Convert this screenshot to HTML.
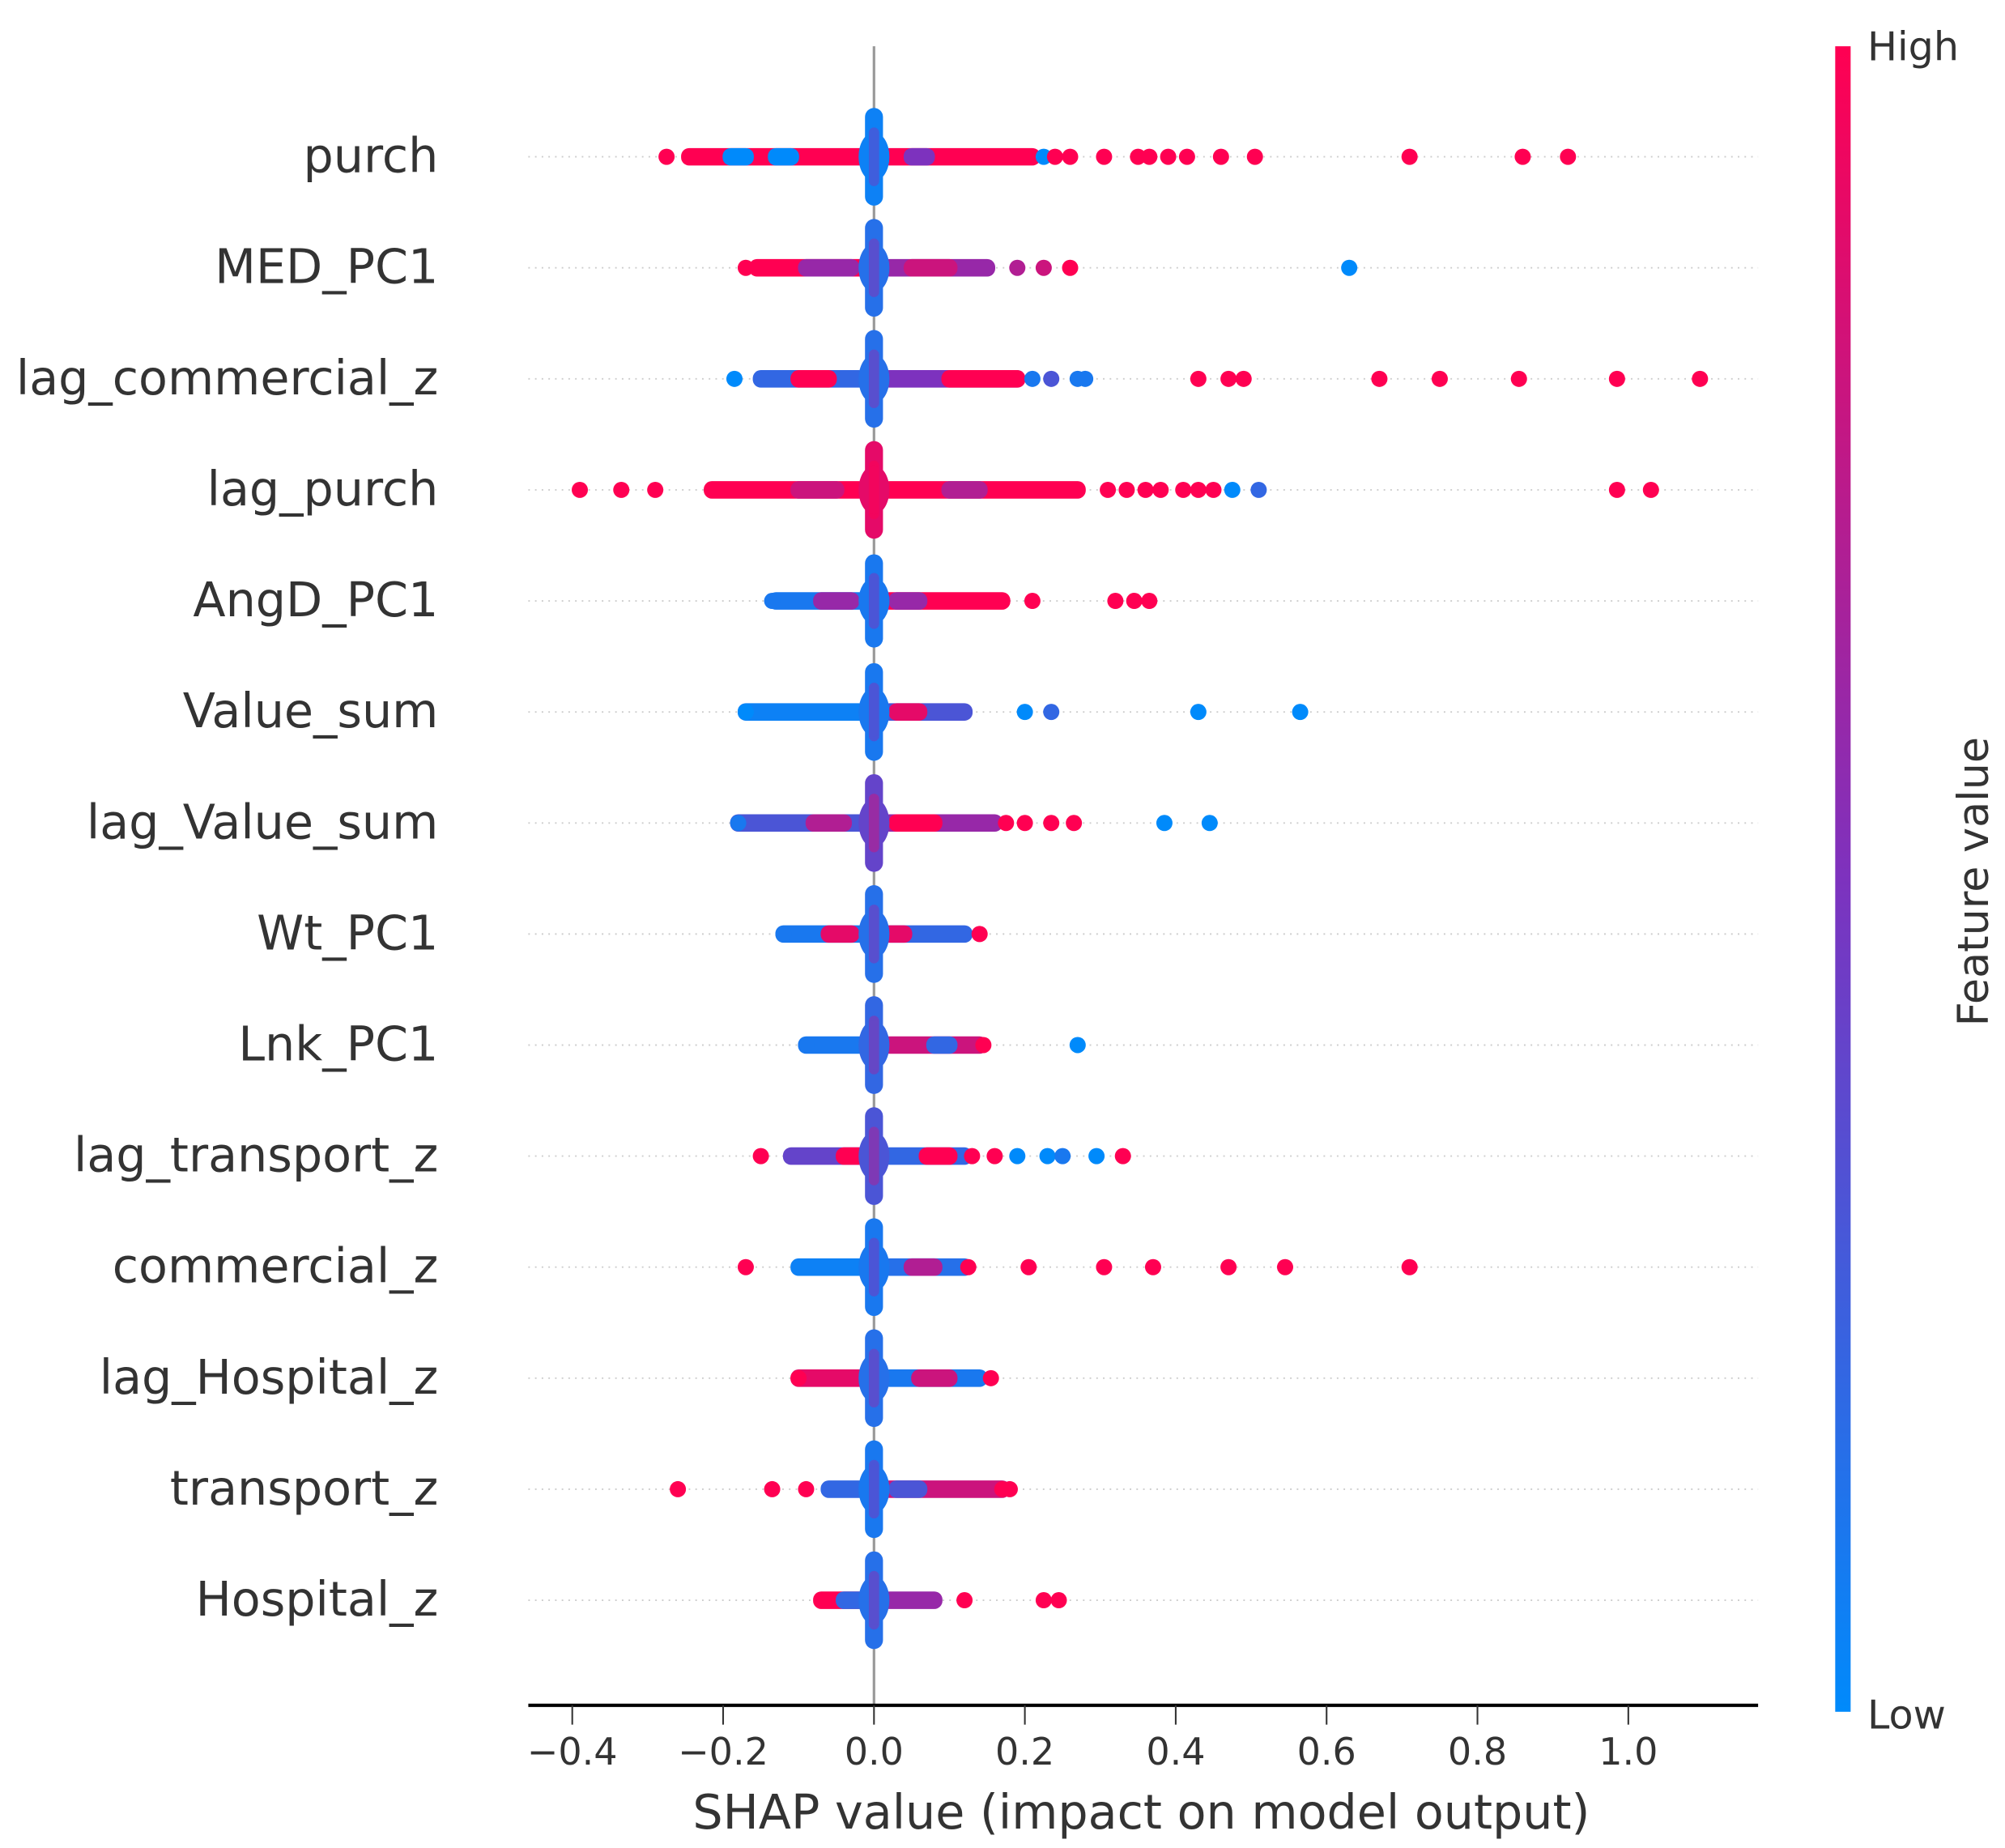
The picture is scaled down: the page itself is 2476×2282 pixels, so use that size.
<!DOCTYPE html>
<html><head><meta charset="utf-8"><style>html,body{margin:0;padding:0;background:#fff}svg{display:block}</style></head>
<body>
<svg id="chart" width="2476" height="2282" viewBox="0 0 1560 1438" xmlns="http://www.w3.org/2000/svg" font-family="'DejaVu Sans','Liberation Sans',sans-serif">
<defs><linearGradient id="cb" x1="0" y1="1" x2="0" y2="0"><stop offset="0" stop-color="rgb(0,138,251)"/><stop offset="0.5" stop-color="rgb(125,50,190)"/><stop offset="1" stop-color="rgb(255,0,82)"/></linearGradient></defs>
<g id="rows"></g>
</svg>
<script>
const features = ["purch","MED_PC1","lag_commercial_z","lag_purch","AngD_PC1","Value_sum","lag_Value_sum","Wt_PC1","Lnk_PC1","lag_transport_z","commercial_z","lag_Hospital_z","transport_z","Hospital_z"];
const xTicks = [-0.4,-0.2,0.0,0.2,0.4,0.6,0.8,1.0];
const tickLabels = ["\u22120.4","\u22120.2","0.0","0.2","0.4","0.6","0.8","1.0"];
// band segments per feature: [lo, hi, featureColor]
const bands = [
 [[-0.245,-0.02,1],[-0.19,-0.17,0],[-0.13,-0.11,0],[0.02,0.21,1],[0.05,0.07,0.5]],
 [[-0.155,-0.02,1],[-0.09,-0.03,0.6],[0.02,0.15,0.6],[0.05,0.1,0.8]],
 [[-0.15,-0.02,0.2],[-0.1,-0.06,1],[0.02,0.19,0.5],[0.1,0.19,1]],
 [[-0.215,-0.02,1],[-0.1,-0.05,0.8],[0.02,0.27,1],[0.1,0.14,0.7]],
 [[-0.13,-0.02,0.1],[-0.07,-0.03,0.6],[0.02,0.17,1],[0.03,0.06,0.6]],
 [[-0.17,-0.02,0.05],[0.02,0.12,0.3],[0.03,0.06,0.9]],
 [[-0.18,-0.02,0.3],[-0.08,-0.04,0.7],[0.02,0.16,0.6],[0.03,0.08,1]],
 [[-0.12,-0.02,0.1],[-0.06,-0.03,0.9],[0.02,0.12,0.2],[0.02,0.04,0.9]],
 [[-0.09,-0.02,0.1],[0.02,0.14,0.8],[0.08,0.1,0.2]],
 [[-0.11,-0.02,0.4],[-0.04,-0.02,1],[0.02,0.12,0.2],[0.07,0.1,1]],
 [[-0.1,-0.02,0.05],[0.02,0.12,0.15],[0.05,0.08,0.7]],
 [[-0.1,-0.02,0.9],[0.02,0.14,0.1],[0.06,0.1,0.8]],
 [[-0.06,-0.02,0.2],[0.02,0.17,0.8],[0.03,0.06,0.3]],
 [[-0.07,-0.02,1],[0.02,0.08,0.6],[-0.04,-0.02,0.2]]
];
// individual dots per feature: [shapValue, featureColor]
const dots = [
 [[-0.275,1],[0.225,0],[0.24,1],[0.26,1],[0.305,1],[0.35,1],[0.365,1],[0.39,1],[0.415,1],[0.46,1],[0.505,1],[0.71,1],[0.86,1],[0.92,1]],
 [[-0.17,1],[0.19,0.7],[0.225,0.8],[0.26,1],[0.63,0]],
 [[-0.185,0],[0.21,0.1],[0.235,0.3],[0.27,0.1],[0.28,0.1],[0.43,1],[0.47,1],[0.49,1],[0.67,1],[0.75,1],[0.855,1],[0.985,1],[1.095,1]],
 [[-0.39,1],[-0.335,1],[-0.29,1],[0.31,1],[0.335,1],[0.36,1],[0.38,1],[0.41,1],[0.43,1],[0.45,1],[0.475,0],[0.51,0.2],[0.985,1],[1.03,1]],
 [[-0.135,0.1],[0.21,1],[0.32,1],[0.345,1],[0.365,1]],
 [[-0.17,0],[0.2,0],[0.235,0.2],[0.43,0],[0.565,0]],
 [[-0.18,0.1],[0.175,1],[0.2,1],[0.235,1],[0.265,1],[0.385,0],[0.445,0]],
 [[-0.12,0.1],[0.14,1]],
 [[-0.09,0.1],[0.145,1],[0.27,0]],
 [[-0.15,1],[0.13,1],[0.16,1],[0.19,0],[0.23,0],[0.25,0.1],[0.295,0],[0.33,1]],
 [[-0.17,1],[0.125,1],[0.205,1],[0.305,1],[0.37,1],[0.47,1],[0.545,1],[0.71,1]],
 [[-0.1,1],[0.155,1]],
 [[-0.26,1],[-0.135,1],[-0.09,1],[0.17,1],[0.18,1]],
 [[0.12,1],[0.225,1],[0.245,1]]
];
// vertical spread of the dense cluster at zero (fraction of row spacing) and its colour
const coreSpread = [0.44,0.44,0.44,0.44,0.42,0.44,0.44,0.44,0.44,0.44,0.44,0.44,0.44,0.44];
const coreColor = [0.05,0.15,0.15,0.9,0.1,0.1,0.4,0.15,0.2,0.3,0.1,0.15,0.1,0.15];

const NS="http://www.w3.org/2000/svg";
const svg=document.getElementById('chart');
const X0=680, PXU=587;
const xs=v=>X0+v*PXU;
const ROW0=122, ROWH=86.4;
const ys=i=>ROW0+i*ROWH;
const R=6.3;
function col(c){const lo=[0,138,251],mi=[125,50,190],hi=[255,0,82];let a,b,t;if(c<0.5){a=lo;b=mi;t=c/0.5}else{a=mi;b=hi;t=(c-0.5)/0.5}return `rgb(${a.map((v,k)=>Math.round(v+(b[k]-v)*t)).join(',')})`}
function mk(tag,attrs,parent){const e=document.createElementNS(NS,tag);for(const k in attrs)e.setAttribute(k,attrs[k]);(parent||svg).appendChild(e);return e}

// zero line
const zl=mk('line',{x1:X0,x2:X0,y1:36,y2:1327,stroke:'#999',"stroke-width":2});



features.forEach((f,i)=>{
  const y=ys(i);
  const g=mk('g',{});
  
  
  const gl=mk('line',{x1:411,x2:1368,y1:y,y2:y,stroke:'#ccc',"stroke-width":1.2,"stroke-dasharray":"1.2 4"},g);
  
  
  const lab=mk('text',{x:341,y:y+12,"text-anchor":"end","font-size":37,fill:'#333'},g);
  lab.textContent=f;
  
  
  bands[i].forEach(b=>{
    const x1=xs(b[0]),x2=xs(b[1]);
    const r=mk('rect',{x:Math.min(x1,x2)-R,y:y-R-0.5,width:Math.abs(x2-x1)+2*R,height:2*R+1,rx:R,fill:col(b[2])},g);
    
    
  });
  dots[i].forEach(d=>{
    const c=mk('circle',{cx:xs(d[0]),cy:y,r:R,fill:col(d[1])},g);
    
    
  });
  const h=coreSpread[i]*ROWH;
  const core=mk('rect',{x:X0-7,y:y-h,width:14,height:2*h,rx:7,fill:col(coreColor[i])},g);
  
  
  const core2=mk('ellipse',{cx:X0,cy:y,rx:12,ry:h*0.5,fill:col(coreColor[i])},g);
  
  
  const core3=mk('rect',{x:X0-4,y:y-h*0.6,width:8,height:h*1.2,rx:4,fill:col(Math.min(1,coreColor[i]+0.4)),opacity:0.5},g);
  
  
});

// x axis
const ax=mk('line',{x1:411,x2:1368,y1:1327,y2:1327,stroke:'#000',"stroke-width":2.6});


xTicks.forEach((t,k)=>{
  const tk=mk('line',{x1:xs(t),x2:xs(t),y1:1327,y2:1342,stroke:'#333',"stroke-width":1.3});
  
  
  const tl=mk('text',{x:xs(t),y:1373,"text-anchor":"middle","font-size":29,fill:'#333'});
  tl.textContent=tickLabels[k];
  
  
});
const xt=mk('text',{x:888,y:1423,"text-anchor":"middle","font-size":37,fill:'#333'});
xt.textContent='SHAP value (impact on model output)';



// colorbar
const cbr=mk('rect',{x:1428,y:36,width:12,height:1296,fill:'url(#cb)'});


const hi=mk('text',{x:1453,y:47,"font-size":31,fill:'#333'});hi.textContent='High';


const lo=mk('text',{x:1453,y:1345,"font-size":31,fill:'#333'});lo.textContent='Low';


const fv=mk('text',{x:1547,y:686,"font-size":33,fill:'#333',"text-anchor":"middle",transform:'rotate(-90 1547 686)'});fv.textContent='Feature value';


</script>
</body></html>
